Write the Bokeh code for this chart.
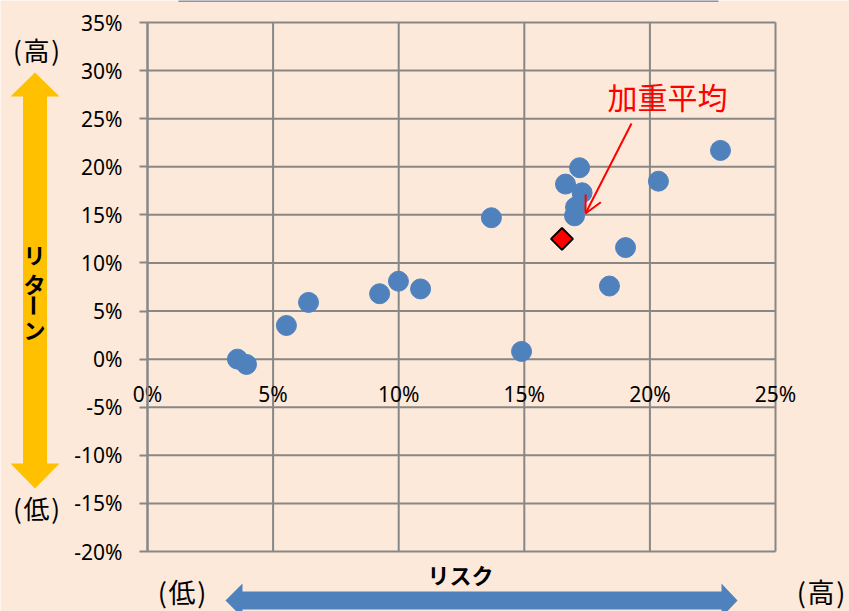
import math
from bokeh.plotting import figure
from bokeh.models import (Range1d, FixedTicker, NumeralTickFormatter, Label,
                          PolyAnnotation, Arrow, OpenHead, LinearAxis)
from bokeh.embed import file_html
from bokeh.resources import INLINE

# ---------------- data ----------------
risk = [0.0358, 0.0394, 0.0553, 0.0641, 0.0924, 0.0999, 0.1087, 0.1369, 0.1489,
        0.1664, 0.1720, 0.1730, 0.1704, 0.1700, 0.1839, 0.1903, 0.2034, 0.2281]
ret = [0.000, -0.0055, 0.035, 0.059, 0.068, 0.081, 0.073, 0.147, 0.008,
       0.182, 0.199, 0.173, 0.158, 0.149, 0.076, 0.116, 0.185, 0.217]
avg_risk = [0.165]
avg_ret = [0.125]
x_ticks = [0.0, 0.05, 0.10, 0.15, 0.20, 0.25]
y_ticks = [-0.20, -0.15, -0.10, -0.05, 0.0, 0.05, 0.10, 0.15, 0.20, 0.25, 0.30, 0.35]

BG = "#FDE9D9"
GRID = "#878787"
NUM_FONT = "Noto Sans"
JP_FONT = "Noto Sans CJK JP"

W, H = 849, 611
# plot-area geometry (pixels in the canvas)
FL, FR, FT, FB = 147, 775, 22, 551
XMIN, XMAX, YMIN, YMAX = 0.0, 0.25, -0.20, 0.35
SX = (XMAX - XMIN) / (FR - FL)
SY = (YMAX - YMIN) / (FB - FT)

# the frame covers the whole canvas; the ranges are extended so that the
# data rectangle sits where the reference plot area is
p = figure(frame_width=W, frame_height=H,
           min_border_left=0, min_border_right=0, min_border_top=0, min_border_bottom=0,
           x_range=Range1d(XMIN - FL * SX, XMAX + (W - FR) * SX),
           y_range=Range1d(YMIN - (H - FB) * SY, YMAX + FT * SY),
           x_axis_location=None, y_axis_location=None,
           output_backend="svg", toolbar_location=None,
           background_fill_color=BG, border_fill_color=BG)
p.outline_line_color = None
p.xgrid.visible = False
p.ygrid.visible = False


def dx(px):
    return XMIN + (px - FL) * SX


def dy(py):
    return YMIN + (FB - py) * SY


# grid lines limited to the plot area
p.segment(x0=x_ticks, y0=[YMIN] * len(x_ticks), x1=x_ticks, y1=[YMAX] * len(x_ticks),
          line_color=GRID, line_width=2)
p.segment(x0=[XMIN] * len(y_ticks), y0=y_ticks, x1=[XMAX] * len(y_ticks), y1=y_ticks,
          line_color=GRID, line_width=2)

# x axis at y = 0
xa = LinearAxis(fixed_location=0, bounds=(XMIN, XMAX))
xa.ticker = FixedTicker(ticks=x_ticks)
xa.formatter = NumeralTickFormatter(format="0%")
xa.axis_line_color = None
xa.major_tick_line_color = None
xa.minor_tick_line_color = None
xa.major_label_standoff = 15
xa.major_label_text_font = NUM_FONT
xa.major_label_text_font_size = "21px"
xa.major_label_text_color = "black"
p.add_layout(xa, "below")

# y axis at x = 0
ya = LinearAxis(fixed_location=0, bounds=(YMIN, YMAX))
ya.ticker = FixedTicker(ticks=y_ticks)
ya.formatter = NumeralTickFormatter(format="0%")
ya.axis_line_color = GRID
ya.axis_line_width = 2
ya.major_tick_line_color = GRID
ya.major_tick_line_width = 2
ya.major_tick_out = 8
ya.major_tick_in = 0
ya.minor_tick_line_color = None
ya.major_label_standoff = 17
ya.major_label_text_font = NUM_FONT
ya.major_label_text_font_size = "21px"
ya.major_label_text_color = "black"
p.add_layout(ya, "left")

# points
p.scatter(risk, ret, size=20, fill_color="#4F81BD", line_color="#4F81BD")
p.scatter(avg_risk, avg_ret, marker="square", size=15.5, angle=math.pi / 4,
          fill_color="#FF0000", line_color="black", line_width=2)

# red annotation arrow + label
p.add_layout(Arrow(x_start=dx(631), y_start=dy(123), x_end=dx(585), y_end=dy(213),
                   line_color="#FF0000", line_width=2,
                   end=OpenHead(size=17, line_color="#FF0000", line_width=2)))
p.add_layout(Label(x=dx(667), y=dy(95), text="加重平均", text_font=JP_FONT,
                   text_font_size="30px", text_color="#FF0000",
                   text_align="center", text_baseline="middle"))


def poly(pts, color):
    return PolyAnnotation(xs=[dx(a) for a, b in pts], ys=[dy(b) for a, b in pts],
                          fill_color=color, fill_alpha=1.0, line_color=None)


# yellow vertical double arrow
cx = 34.5
yellow = [(cx, 72), (cx - 24.5, 96), (cx - 12, 96), (cx - 12, 463), (cx - 24.5, 463),
          (cx, 488), (cx + 24.5, 463), (cx + 12, 463), (cx + 12, 96), (cx + 24.5, 96)]
p.add_layout(poly(yellow, "#FFC000"))

# blue horizontal double arrow
cy = 600
blue = [(225, cy), (242, cy - 17), (242, cy - 9), (721, cy - 9), (721, cy - 17),
        (737, cy), (721, cy + 17), (721, cy + 9), (242, cy + 9), (242, cy + 17)]
p.add_layout(poly(blue, "#4F81BD"))

# thin line at the very top
top_line = [(178, -2), (718, -2), (718, 1.5), (178, 1.5)]
p.add_layout(poly(top_line, "#8497B0"))


def lab(px, py, text, size="22px", bold=False, angle=0.0, color="black"):
    p.add_layout(Label(x=dx(px), y=dy(py), text=text, text_font=JP_FONT,
                       text_font_size=size, text_color=color,
                       text_font_style="bold" if bold else "normal",
                       angle=angle, text_align="center", text_baseline="middle"))


HS = "\u200a"
lab(36, 49, "(" + HS + "高" + HS + ")", size="26px")
lab(36, 507, "(" + HS + "低" + HS + ")", size="26px")
lab(181.5, 591, "(" + HS + "低" + HS + ")", size="27px")
lab(820.5, 591, "(" + HS + "高" + HS + ")", size="27px")
lab(460, 573, "リスク", bold=True)
lab(34, 253, "リ", bold=True)
lab(34, 282, "タ", bold=True)
lab(34, 305, "ー", bold=True, angle=-math.pi / 2)
lab(34, 328, "ン", bold=True)

open("out.html", "w").write(file_html(p, INLINE))
